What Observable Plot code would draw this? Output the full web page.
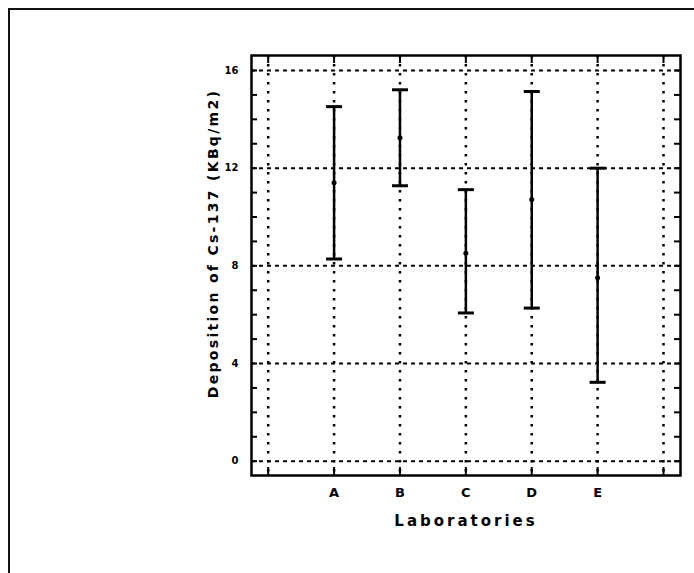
<!DOCTYPE html>
<html>
<head>
<meta charset="utf-8">
<script src="https://cdn.jsdelivr.net/npm/d3@7"></script>
<script src="https://cdn.jsdelivr.net/npm/@observablehq/plot@0.6"></script>
<style>
  html, body { margin: 0; padding: 0; background: white; }
  #wrap { position: relative; width: 694px; height: 573px; overflow: hidden; background: white; }
  #page { position: absolute; left: 8px; top: 8px; width: 684px; height: 700px;
          border-top: 2px solid #111; border-left: 2px solid #111; pointer-events: none; }
</style>
</head>
<body>
<div id="wrap"><div id="page"></div></div>
<script>
// ---- data ----
const labs = ["A", "B", "C", "D", "E"];
const low  = [8.28, 11.28, 6.07, 6.27, 3.23];
const mean = [11.40, 13.25, 8.52, 10.72, 7.51];
const high = [14.52, 15.21, 11.12, 15.14, 12.0];
const yLabelTicks = [0, 4, 8, 12, 16];
const yMinorTicks = d3.range(0, 17);
const xGridTicks = [0, 1, 2, 3, 4, 5, 6];
const yTitle = "Deposition of Cs-137 (KBq/m2)";
const xTitle = "Laboratories";

const bars = labs.map((l, i) => ({lab: l, pos: i + 1, low: low[i], mean: mean[i], high: high[i]}));

const capSymbol = {
  draw(ctx, size) {
    const w = Math.sqrt(size / Math.PI);
    ctx.moveTo(-w, 0);
    ctx.lineTo(w, 0);
  }
};

const chart = Plot.plot({
  width: 694,
  height: 573,
  marginLeft: 251,
  marginRight: 14,
  marginTop: 55,
  marginBottom: 98,
  x: {domain: [-0.2535, 6.258]},
  y: {domain: [-0.586, 16.614]},
  style: {fontFamily: "'DejaVu Sans', sans-serif", background: "white", color: "black", overflow: "visible"},
  marks: [
    Plot.ruleY(yLabelTicks, {stroke: "black", strokeWidth: 2, strokeDasharray: "4,4"}),
    Plot.ruleX(xGridTicks, {stroke: "black", strokeWidth: 2.5, strokeDasharray: "2.5,6.5"}),
    Plot.ruleY(yMinorTicks, {stroke: "black", strokeWidth: 2, insetRight: 423}),
    Plot.ruleY(yMinorTicks, {stroke: "black", strokeWidth: 2, insetLeft: 423}),
    Plot.ruleX(xGridTicks, {stroke: "black", strokeWidth: 2, insetTop: 412}),
    Plot.ruleX(xGridTicks, {stroke: "black", strokeWidth: 2, insetBottom: 412}),
    Plot.frame({stroke: "black", strokeWidth: 2.5}),
    Plot.ruleX(bars, {x: "pos", y1: "low", y2: "high", stroke: "black", strokeWidth: 2.5}),
    Plot.dot(bars, {x: "pos", y: "low", symbol: capSymbol, r: 8, stroke: "black", strokeWidth: 3, fill: "none"}),
    Plot.dot(bars, {x: "pos", y: "high", symbol: capSymbol, r: 8, stroke: "black", strokeWidth: 3, fill: "none"}),
    Plot.dot(bars, {x: "pos", y: "mean", r: 2.5, fill: "black", stroke: "none"}),
    Plot.axisY(yLabelTicks, {anchor: "left", tickSize: 0, tickPadding: 13, fontSize: 10, fontWeight: "bold", label: null}),
    Plot.axisX([1, 2, 3, 4, 5], {anchor: "bottom", tickSize: 0, tickPadding: 12, fontSize: 13, fontWeight: "bold",
      tickFormat: d => labs[d - 1], label: null}),
    Plot.text([yTitle], {frameAnchor: "left", dx: -38, dy: -22, rotate: -90, fontSize: 14, fontWeight: "bold",
      textAnchor: "middle", lineAnchor: "middle", fill: "black"}),
    Plot.text([xTitle], {frameAnchor: "bottom", dy: 46, fontSize: 15, fontWeight: "bold",
      textAnchor: "middle", lineAnchor: "middle", fill: "black"})
  ]
});

d3.select(chart).selectAll("text").filter(function () { return this.textContent === yTitle; })
  .style("letter-spacing", "2.3px");
d3.select(chart).selectAll("text").filter(function () { return this.textContent === xTitle; })
  .style("letter-spacing", "3px");
d3.select(chart).style("position", "absolute").style("left", "0px").style("top", "0px");
document.getElementById("wrap").insertBefore(chart, document.getElementById("page"));
</script>
</body>
</html>
